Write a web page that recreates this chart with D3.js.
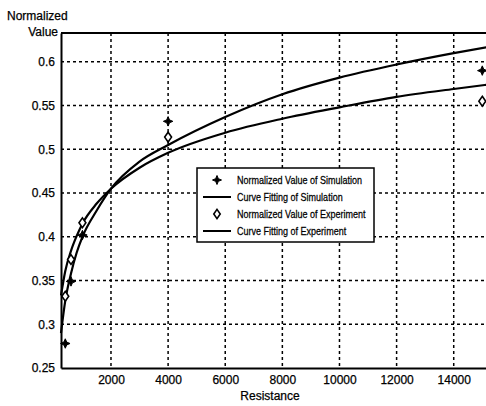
<!DOCTYPE html>
<html>
<head>
<meta charset="utf-8">
<script src="https://cdn.jsdelivr.net/npm/d3@7"></script>
<style>
  body { margin: 0; background: #fff; }
  svg { display: block; font-family: "Liberation Sans", Arial, sans-serif; }
  .tick-label { font-size: 12px; fill: #000; stroke: #000; stroke-width: 0.25px; }
  .axis-label { font-size: 12px; fill: #000; stroke: #000; stroke-width: 0.25px; }
  .legend-text { font-size: 11px; fill: #000; stroke: #000; stroke-width: 0.25px; }
</style>
</head>
<body>
<div id="chart"></div>
<script>
const width = 486, height = 406;
const margin = {top: 33, right: -2, bottom: 38, left: 61};
const innerWidth = width - margin.left - margin.right;
const innerHeight = height - margin.top - margin.bottom;

// tick values
const xTicks = [2000, 4000, 6000, 8000, 10000, 12000, 14000];
const yTicks = [0.25, 0.3, 0.35, 0.4, 0.45, 0.5, 0.55, 0.6];

// measured points
const pointX = [400, 600, 1000, 4000, 15000];
const simValues = [0.278, 0.349, 0.402, 0.532, 0.590];
const expValues = [0.332, 0.374, 0.416, 0.514, 0.555];

// fitted curves
const curveX = [250, 400, 600, 800, 1000, 1500, 2000, 3000, 4000, 6000, 8000, 10000, 12000, 14000, 15200];
const simFit = [0.290, 0.327, 0.358, 0.382, 0.400, 0.430, 0.455, 0.486, 0.505, 0.537, 0.563, 0.582, 0.597, 0.610, 0.617];
const expFit = [0.333, 0.361, 0.384, 0.401, 0.415, 0.438, 0.455, 0.479, 0.496, 0.519, 0.535, 0.548, 0.560, 0.569, 0.574];

const legendLabels = [
  "Normalized Value of Simulation",
  "Curve Fitting of Simulation",
  "Normalized Value of Experiment",
  "Curve Fitting of Experiment"
];

const svg = d3.select("#chart")
  .append("svg")
  .attr("width", width)
  .attr("height", height);

const xScale = d3.scaleLinear()
  .domain([250, 15200])
  .range([0, innerWidth]);

const yScale = d3.scaleLinear()
  .domain([0.25, 0.633])
  .range([innerHeight, 0]);

const inner = svg.append("g")
  .attr("transform", `translate(${margin.left}, ${margin.top})`);

// dashed grid
inner.append("g")
  .selectAll("line")
  .data(xTicks)
  .join("line")
    .attr("x1", d => xScale(d))
    .attr("x2", d => xScale(d))
    .attr("y1", 0)
    .attr("y2", innerHeight)
    .attr("stroke", "#000")
    .attr("stroke-width", 1.5)
    .attr("stroke-dasharray", "3,3");

inner.append("g")
  .selectAll("line")
  .data(yTicks.filter(d => d > 0.25))
  .join("line")
    .attr("x1", 0)
    .attr("x2", innerWidth)
    .attr("y1", d => yScale(d))
    .attr("y2", d => yScale(d))
    .attr("stroke", "#000")
    .attr("stroke-width", 1.5)
    .attr("stroke-dasharray", "3,3");

// axes
const bottomAxis = d3.axisBottom(xScale)
  .tickValues(xTicks)
  .tickSize(0)
  .tickPadding(7)
  .tickFormat(d3.format("d"));
const leftAxis = d3.axisLeft(yScale)
  .tickValues(yTicks)
  .tickSize(0)
  .tickPadding(6)
  .tickFormat(d => String(d));

const gx = inner.append("g")
  .attr("transform", `translate(0, ${innerHeight})`)
  .call(bottomAxis);
const gy = inner.append("g")
  .call(leftAxis);

[gx, gy].forEach(g => {
  g.attr("font-family", null).attr("font-size", null);
  g.select(".domain").attr("stroke", "#000").attr("stroke-width", 2);
  g.selectAll("text").attr("class", "tick-label");
});

// right-align the y tick labels by measuring them
gy.selectAll(".tick text").each(function() {
  const w = this.getComputedTextLength();
  d3.select(this)
    .attr("text-anchor", "start")
    .attr("x", -6 - w);
});

// top border
inner.append("line")
  .attr("x1", 0)
  .attr("x2", innerWidth)
  .attr("y1", 0)
  .attr("y2", 0)
  .attr("stroke", "#000")
  .attr("stroke-width", 2);

// fitted curves
const line = d3.line()
  .x(d => xScale(d[0]))
  .y(d => yScale(d[1]))
  .curve(d3.curveMonotoneX);

[simFit, expFit].forEach(vals => {
  inner.append("path")
    .datum(curveX.map((x, i) => [x, vals[i]]))
    .attr("fill", "none")
    .attr("stroke", "#000")
    .attr("stroke-width", 2.2)
    .attr("d", line);
});

// four point star marker
const star4 = {
  draw(context, size) {
    const r = Math.sqrt(size) * 0.75;
    const k = r * 0.3;
    context.moveTo(0, -r);
    context.lineTo(k, -k);
    context.lineTo(r, 0);
    context.lineTo(k, k);
    context.lineTo(0, r);
    context.lineTo(-k, k);
    context.lineTo(-r, 0);
    context.lineTo(-k, -k);
    context.closePath();
  }
};
const diamond = {
  draw(context, size) {
    const h = Math.sqrt(size) * 0.55;
    const w = h * 0.7;
    context.moveTo(0, -h);
    context.lineTo(w, 0);
    context.lineTo(0, h);
    context.lineTo(-w, 0);
    context.closePath();
  }
};

inner.append("g")
  .selectAll("path")
  .data(pointX.map((x, i) => [x, expValues[i]]))
  .join("path")
    .attr("transform", d => `translate(${xScale(d[0])}, ${yScale(d[1])})`)
    .attr("d", d3.symbol(diamond, 80))
    .attr("fill", "#fff")
    .attr("stroke", "#000")
    .attr("stroke-width", 1.6);

inner.append("g")
  .selectAll("path")
  .data(pointX.map((x, i) => [x, simValues[i]]))
  .join("path")
    .attr("transform", d => `translate(${xScale(d[0])}, ${yScale(d[1])})`)
    .attr("d", d3.symbol(star4, 40))
    .attr("fill", "#000")
    .attr("stroke", "#000")
    .attr("stroke-width", 1);

// legend
const legend = svg.append("g")
  .attr("transform", "translate(197, 168)");

legend.append("rect")
  .attr("width", 177)
  .attr("height", 74)
  .attr("fill", "#fff")
  .attr("stroke", "#000")
  .attr("stroke-width", 1.5);

legendLabels.forEach((label, i) => {
  const y = 12 + i * 17;
  const row = legend.append("g").attr("transform", `translate(0, ${y})`);
  if (i === 0) {
    row.append("path")
      .attr("transform", "translate(20, 0)")
      .attr("d", d3.symbol(star4, 36))
      .attr("fill", "#000")
      .attr("stroke", "#000")
      .attr("stroke-width", 1);
  } else if (i === 2) {
    row.append("path")
      .attr("transform", "translate(20, 0)")
      .attr("d", d3.symbol(diamond, 70))
      .attr("fill", "#fff")
      .attr("stroke", "#000")
      .attr("stroke-width", 1.6);
  } else {
    row.append("line")
      .attr("x1", 6)
      .attr("x2", 34)
      .attr("stroke", "#000")
      .attr("stroke-width", 2);
  }
  // narrow the text horizontally, like the condensed face in the picture
  row.append("text")
    .attr("class", "legend-text")
    .attr("transform", "translate(40, 4) scale(0.82, 1)")
    .text(label);
});

// axis titles
svg.append("text")
  .attr("class", "axis-label")
  .attr("x", 7)
  .attr("y", 20)
  .text("Normalized");
const valueLabel = svg.append("text")
  .attr("class", "axis-label")
  .attr("y", 36)
  .text("Value");
valueLabel.attr("x", 58 - valueLabel.node().getComputedTextLength());
svg.append("text")
  .attr("class", "axis-label")
  .attr("text-anchor", "middle")
  .attr("x", 270)
  .attr("y", 400)
  .text("Resistance");
</script>
</body>
</html>
